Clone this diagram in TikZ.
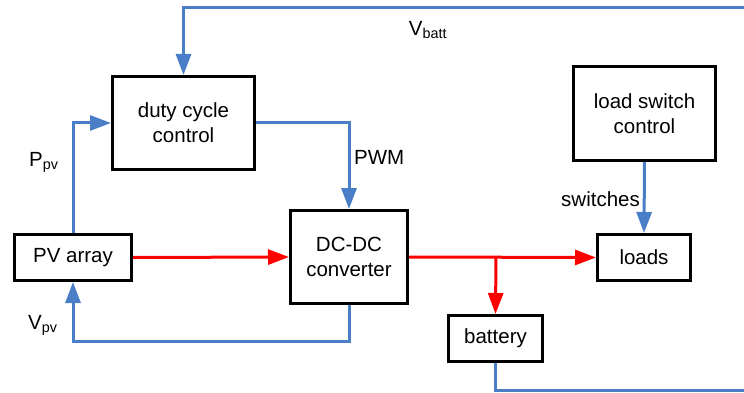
\documentclass[tikz,border=0pt]{standalone}
\usepackage{fontspec}
\setmainfont{Liberation Sans}
\usetikzlibrary{arrows.meta}
\definecolor{cblue}{HTML}{4A7EC7}
\definecolor{cred}{HTML}{FF0000}
\begin{document}
\begin{tikzpicture}[x=1pt,y=-1pt,
  box/.style={draw=black,line width=3pt,rectangle,inner sep=0pt,align=center,
    font=\fontsize{20.5}{25}\selectfont},
  bl/.style={draw=cblue,line width=3pt},
  rd/.style={draw=cred,line width=3pt},
  tipb/.style={-{Triangle[length=21pt,width=15pt,fill=cblue]}},
  tipr/.style={-{Triangle[length=21pt,width=15pt,fill=cred]}},
  lab/.style={inner sep=0pt,font=\fontsize{20.5}{25}\selectfont},
  sub/.style={}]
\useasboundingbox (0,0) rectangle (744,393);
\node[box,minimum width=142pt,minimum height=93pt] (duty) at (183.5,123) {duty cycle\\control};
\node[box,minimum width=117pt,minimum height=93pt] (dc) at (349,257) {DC-DC\\converter};
\node[box,minimum width=117pt,minimum height=46pt] (pv) at (73,257.5) {PV array};
\node[box,minimum width=93pt,minimum height=46pt] (loads) at (644,257.5) {loads};
\node[box,minimum width=94pt,minimum height=46pt] (bat) at (495.5,338.5) {battery};
\node[box,minimum width=142pt,minimum height=94pt] (lsc) at (644.5,113.5) {load switch\\control};
\coordinate (vbR) at (752,8);
\coordinate (btR) at (752,390);
\coordinate (vpvc) at (349,341);
\coordinate (br) at (496,257);
% blue signal lines
\draw[bl,tipb] (vbR) -| (duty.north);
\draw[bl,tipb] (pv.north) |- (duty.west);
\draw[bl,tipb] (duty.east) -| (dc.north);
\draw[bl,tipb] (dc.south) -- (vpvc) -| (pv.south);
\draw[bl,tipb] (lsc.south) -- (loads.north);
\draw[bl] (bat.south) |- (btR);
% red power lines
\draw[rd,tipr] (pv.east) -- (dc.west);
\draw[rd,tipr] (dc.east) -- (loads.west);
\draw[rd,tipr] (br) -- (bat.north);
% labels
\node[lab] (lvb) at (428,30) {V\textsubscript{batt}};
\node[lab,anchor=west] (lpwm) at (354,157) {PWM};
\node[lab,anchor=west] (lppv) at (29,162) {P\textsubscript{pv}};
\node[lab,anchor=west] (lvpv) at (28,325) {V\textsubscript{pv}};
\node[lab,anchor=east] (lsw) at (640,199) {switches};
\end{tikzpicture}
\end{document}
